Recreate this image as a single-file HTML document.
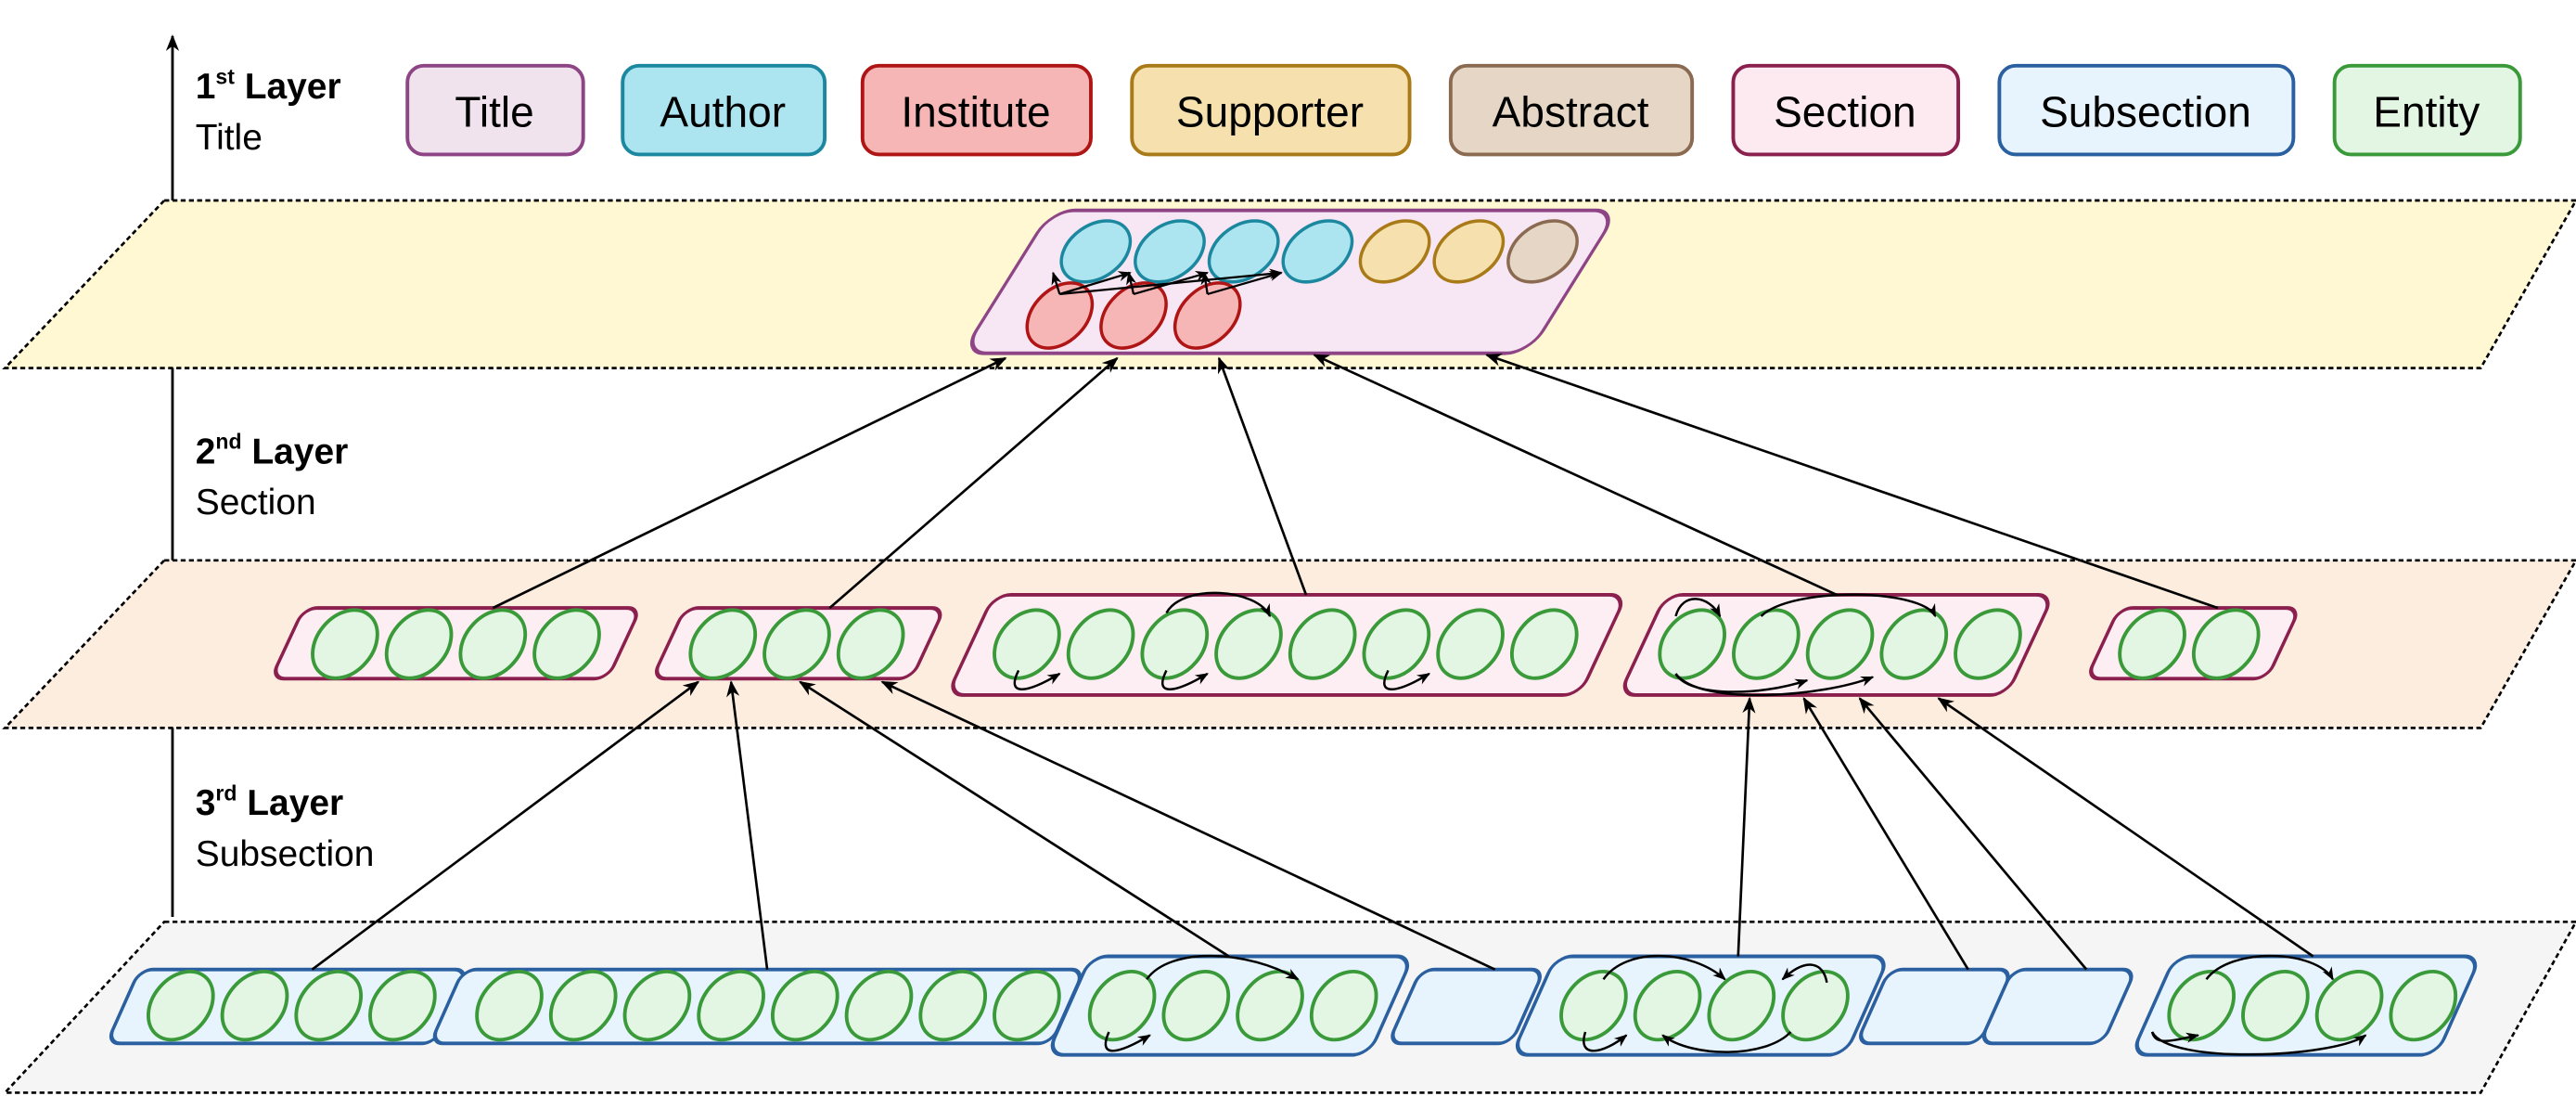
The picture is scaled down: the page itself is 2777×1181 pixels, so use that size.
<!DOCTYPE html>
<html><head><meta charset="utf-8"><style>
html,body{margin:0;padding:0;background:#fff;}
svg{display:block;}
text{font-family:"Liberation Sans",sans-serif;}
</style></head><body>
<svg width="2777" height="1181" viewBox="0 0 1568 667" preserveAspectRatio="none" xmlns="http://www.w3.org/2000/svg">
<defs>
<marker id="ah" viewBox="0 0 10 10" refX="9" refY="5" markerWidth="10" markerHeight="10" orient="auto" markerUnits="userSpaceOnUse"><path d="M0,1 L10,5 L0,9 L3,5 z" fill="#000"/></marker>
<marker id="as" viewBox="0 0 10 10" refX="9" refY="5" markerWidth="8" markerHeight="8" orient="auto" markerUnits="userSpaceOnUse"><path d="M0,1 L10,5 L0,9 L3,5 z" fill="#000"/></marker>
</defs>
<line x1="105" y1="558" x2="105" y2="22" stroke="#000" stroke-width="1.6" marker-end="url(#ah)"/>
<text x="119" y="60" font-size="22" font-weight="bold">1<tspan font-size="13" dy="-9">st</tspan><tspan dy="9"> Layer</tspan></text>
<text x="119" y="91" font-size="22">Title</text>
<text x="119" y="282" font-size="22" font-weight="bold">2<tspan font-size="13" dy="-9">nd</tspan><tspan dy="9"> Layer</tspan></text>
<text x="119" y="313" font-size="22">Section</text>
<text x="119" y="496" font-size="22" font-weight="bold">3<tspan font-size="13" dy="-9">rd</tspan><tspan dy="9"> Layer</tspan></text>
<text x="119" y="527" font-size="22">Subsection</text>
<g stroke-width="2.2" font-size="26" text-anchor="middle">
<rect x="248" y="40" width="107" height="54" rx="10" fill="#f1e3ee" stroke="#8e4585"/><text x="301" y="77" stroke="none">Title</text>
<rect x="379" y="40" width="123" height="54" rx="10" fill="#ace4f0" stroke="#1b88a0"/><text x="440" y="77" stroke="none">Author</text>
<rect x="525" y="40" width="139" height="54" rx="10" fill="#f7b6b6" stroke="#b01515"/><text x="594" y="77" stroke="none">Institute</text>
<rect x="689" y="40" width="169" height="54" rx="10" fill="#f6e0ad" stroke="#a87a18"/><text x="773" y="77" stroke="none">Supporter</text>
<rect x="883" y="40" width="147" height="54" rx="10" fill="#e5d6c5" stroke="#8a6a50"/><text x="956" y="77" stroke="none">Abstract</text>
<rect x="1055" y="40" width="137" height="54" rx="10" fill="#fdeaf0" stroke="#8b1f4e"/><text x="1123" y="77" stroke="none">Section</text>
<rect x="1217" y="40" width="179" height="54" rx="10" fill="#e8f4fd" stroke="#2a5fa0"/><text x="1306" y="77" stroke="none">Subsection</text>
<rect x="1421" y="40" width="113" height="54" rx="10" fill="#e3f5e3" stroke="#3a9a3a"/><text x="1477" y="77" stroke="none">Entity</text>
</g>
<g stroke="#000" stroke-width="1.5" stroke-dasharray="3,2">
<polygon points="100,122 1568,122 1510,224 3,224" fill="#fff8d2"/>
<polygon points="100,341 1568,341 1510,443 3,443" fill="#fdeddf"/>
<polygon points="100,561 1568,561 1510,665 3,665" fill="#f5f5f5"/>
</g>
<g transform="translate(640,128) skewX(-32)"><rect x="0" y="0" width="345" height="87" rx="14" fill="#f7e6f3" stroke="#8e4585" stroke-width="2.2"/></g>
<g stroke-width="2">
<g fill="#ace4f0" stroke="#1b88a0">
<ellipse cx="667" cy="153" rx="16" ry="23" transform="rotate(55 667 153)"/>
<ellipse cx="712" cy="153" rx="16" ry="23" transform="rotate(55 712 153)"/>
<ellipse cx="757" cy="153" rx="16" ry="23" transform="rotate(55 757 153)"/>
<ellipse cx="802" cy="153" rx="16" ry="23" transform="rotate(55 802 153)"/>
</g>
<g fill="#f6e0ad" stroke="#a87a18">
<ellipse cx="849" cy="153" rx="16" ry="23" transform="rotate(55 849 153)"/>
<ellipse cx="894" cy="153" rx="16" ry="23" transform="rotate(55 894 153)"/>
</g>
<ellipse cx="939" cy="153" rx="16" ry="23" transform="rotate(55 939 153)" fill="#e5d6c5" stroke="#8a6a50"/>
<g fill="#f7b6b6" stroke="#b01515">
<ellipse cx="645" cy="192" rx="16" ry="23" transform="rotate(45 645 192)"/>
<ellipse cx="690" cy="192" rx="16" ry="23" transform="rotate(45 690 192)"/>
<ellipse cx="735" cy="192" rx="16" ry="23" transform="rotate(45 735 192)"/>
</g>
</g>
<g stroke="#000" stroke-width="1.3" fill="none" marker-end="url(#as)">
<line x1="645" y1="179" x2="641" y2="166"/>
<line x1="645" y1="179" x2="688" y2="166"/>
<line x1="645" y1="179" x2="780" y2="166"/>
<line x1="690" y1="179" x2="687" y2="166"/>
<line x1="690" y1="179" x2="735" y2="166"/>
<line x1="735" y1="179" x2="733" y2="166"/>
<line x1="735" y1="179" x2="780" y2="166"/>
</g>
<g fill="#fdeef3" stroke="#8b1f4e" stroke-width="2.2">
<g transform="translate(185,370) skewX(-25)"><rect width="205" height="43" rx="8"/></g>
<g transform="translate(417,370) skewX(-25)"><rect width="158" height="43" rx="8"/></g>
<g transform="translate(605,362) skewX(-25)"><rect width="385" height="61" rx="10"/></g>
<g transform="translate(1014,362) skewX(-25)"><rect width="236" height="61" rx="10"/></g>
<g transform="translate(1290,370) skewX(-25)"><rect width="110" height="43" rx="8"/></g>
</g>
<g fill="#e8f4fd" stroke="#2a5fa0" stroke-width="2.2">
<g transform="translate(85,590) skewX(-24)"><rect width="200" height="45" rx="8"/></g>
<g transform="translate(282,590) skewX(-24)"><rect width="378" height="45" rx="8"/></g>
<g transform="translate(664,582) skewX(-24)"><rect width="196" height="60" rx="10"/></g>
<g transform="translate(865,590) skewX(-24)"><rect width="75" height="45" rx="8"/></g>
<g transform="translate(947,582) skewX(-24)"><rect width="203" height="60" rx="10"/></g>
<g transform="translate(1150,590) skewX(-24)"><rect width="75" height="45" rx="8"/></g>
<g transform="translate(1225,590) skewX(-24)"><rect width="75" height="45" rx="8"/></g>
<g transform="translate(1324,582) skewX(-24)"><rect width="186" height="60" rx="10"/></g>
</g>
<g fill="#e3f5e3" stroke="#3a9a3a" stroke-width="2.2">
<ellipse cx="210" cy="392" rx="17" ry="23" transform="rotate(40 210 392)"/>
<ellipse cx="255" cy="392" rx="17" ry="23" transform="rotate(40 255 392)"/>
<ellipse cx="300" cy="392" rx="17" ry="23" transform="rotate(40 300 392)"/>
<ellipse cx="345" cy="392" rx="17" ry="23" transform="rotate(40 345 392)"/>
<ellipse cx="440" cy="392" rx="17" ry="23" transform="rotate(40 440 392)"/>
<ellipse cx="485" cy="392" rx="17" ry="23" transform="rotate(40 485 392)"/>
<ellipse cx="530" cy="392" rx="17" ry="23" transform="rotate(40 530 392)"/>
<ellipse cx="625" cy="392" rx="17" ry="23" transform="rotate(40 625 392)"/>
<ellipse cx="670" cy="392" rx="17" ry="23" transform="rotate(40 670 392)"/>
<ellipse cx="715" cy="392" rx="17" ry="23" transform="rotate(40 715 392)"/>
<ellipse cx="760" cy="392" rx="17" ry="23" transform="rotate(40 760 392)"/>
<ellipse cx="805" cy="392" rx="17" ry="23" transform="rotate(40 805 392)"/>
<ellipse cx="850" cy="392" rx="17" ry="23" transform="rotate(40 850 392)"/>
<ellipse cx="895" cy="392" rx="17" ry="23" transform="rotate(40 895 392)"/>
<ellipse cx="940" cy="392" rx="17" ry="23" transform="rotate(40 940 392)"/>
<ellipse cx="1030" cy="392" rx="17" ry="23" transform="rotate(40 1030 392)"/>
<ellipse cx="1075" cy="392" rx="17" ry="23" transform="rotate(40 1075 392)"/>
<ellipse cx="1120" cy="392" rx="17" ry="23" transform="rotate(40 1120 392)"/>
<ellipse cx="1165" cy="392" rx="17" ry="23" transform="rotate(40 1165 392)"/>
<ellipse cx="1210" cy="392" rx="17" ry="23" transform="rotate(40 1210 392)"/>
<ellipse cx="1310" cy="392" rx="17" ry="23" transform="rotate(40 1310 392)"/>
<ellipse cx="1355" cy="392" rx="17" ry="23" transform="rotate(40 1355 392)"/>
<ellipse cx="110" cy="612" rx="17" ry="23" transform="rotate(40 110 612)"/>
<ellipse cx="155" cy="612" rx="17" ry="23" transform="rotate(40 155 612)"/>
<ellipse cx="200" cy="612" rx="17" ry="23" transform="rotate(40 200 612)"/>
<ellipse cx="245" cy="612" rx="17" ry="23" transform="rotate(40 245 612)"/>
<ellipse cx="310" cy="612" rx="17" ry="23" transform="rotate(40 310 612)"/>
<ellipse cx="355" cy="612" rx="17" ry="23" transform="rotate(40 355 612)"/>
<ellipse cx="400" cy="612" rx="17" ry="23" transform="rotate(40 400 612)"/>
<ellipse cx="445" cy="612" rx="17" ry="23" transform="rotate(40 445 612)"/>
<ellipse cx="490" cy="612" rx="17" ry="23" transform="rotate(40 490 612)"/>
<ellipse cx="535" cy="612" rx="17" ry="23" transform="rotate(40 535 612)"/>
<ellipse cx="580" cy="612" rx="17" ry="23" transform="rotate(40 580 612)"/>
<ellipse cx="625" cy="612" rx="17" ry="23" transform="rotate(40 625 612)"/>
<ellipse cx="683" cy="612" rx="17" ry="23" transform="rotate(40 683 612)"/>
<ellipse cx="728" cy="612" rx="17" ry="23" transform="rotate(40 728 612)"/>
<ellipse cx="773" cy="612" rx="17" ry="23" transform="rotate(40 773 612)"/>
<ellipse cx="818" cy="612" rx="17" ry="23" transform="rotate(40 818 612)"/>
<ellipse cx="970" cy="612" rx="17" ry="23" transform="rotate(40 970 612)"/>
<ellipse cx="1015" cy="612" rx="17" ry="23" transform="rotate(40 1015 612)"/>
<ellipse cx="1060" cy="612" rx="17" ry="23" transform="rotate(40 1060 612)"/>
<ellipse cx="1105" cy="612" rx="17" ry="23" transform="rotate(40 1105 612)"/>
<ellipse cx="1340" cy="612" rx="17" ry="23" transform="rotate(40 1340 612)"/>
<ellipse cx="1385" cy="612" rx="17" ry="23" transform="rotate(40 1385 612)"/>
<ellipse cx="1430" cy="612" rx="17" ry="23" transform="rotate(40 1430 612)"/>
<ellipse cx="1475" cy="612" rx="17" ry="23" transform="rotate(40 1475 612)"/>
</g>
<g stroke="#000" stroke-width="1.4" fill="none" marker-end="url(#as)">
<path d="M710,373 C720,355 765,358 773,375"/>
<path d="M620,408 C612,424 625,422 645,410"/>
<path d="M710,408 C702,424 715,422 735,410"/>
<path d="M845,408 C837,424 850,422 870,410"/>
<path d="M1020,375 C1024,360 1040,362 1047,375"/>
<path d="M1072,375 C1090,357 1170,358 1178,375"/>
<path d="M1020,410 C1028,424 1070,424 1100,414"/>
<path d="M1020,410 C1035,430 1110,424 1140,412"/>
<path d="M675,628 C668,644 680,642 700,630"/>
<path d="M698,596 C712,576 760,578 790,596"/>
<path d="M976,596 C990,576 1030,578 1050,596"/>
<path d="M1112,598 C1110,586 1100,582 1085,596"/>
<path d="M965,628 C960,644 975,642 990,630"/>
<path d="M1090,628 C1075,644 1030,644 1012,630"/>
<path d="M1343,596 C1358,576 1410,578 1420,596"/>
<path d="M1310,628 C1312,636 1320,634 1338,630"/>
<path d="M1310,628 C1320,648 1420,644 1440,630"/>
</g>
<g stroke="#000" stroke-width="1.5" marker-end="url(#ah)">
<line x1="300" y1="370" x2="612" y2="218"/>
<line x1="505" y1="370" x2="680" y2="218"/>
<line x1="795" y1="362" x2="742" y2="218"/>
<line x1="1118" y1="362" x2="800" y2="216"/>
<line x1="1350" y1="370" x2="905" y2="216"/>
<line x1="190" y1="590" x2="425" y2="415"/>
<line x1="467" y1="590" x2="445" y2="415"/>
<line x1="748" y1="582" x2="487" y2="415"/>
<line x1="910" y1="590" x2="537" y2="415"/>
<line x1="1058" y1="582" x2="1065" y2="425"/>
<line x1="1198" y1="590" x2="1098" y2="425"/>
<line x1="1270" y1="590" x2="1132" y2="425"/>
<line x1="1408" y1="582" x2="1180" y2="425"/>
</g>
</svg>
</body></html>
